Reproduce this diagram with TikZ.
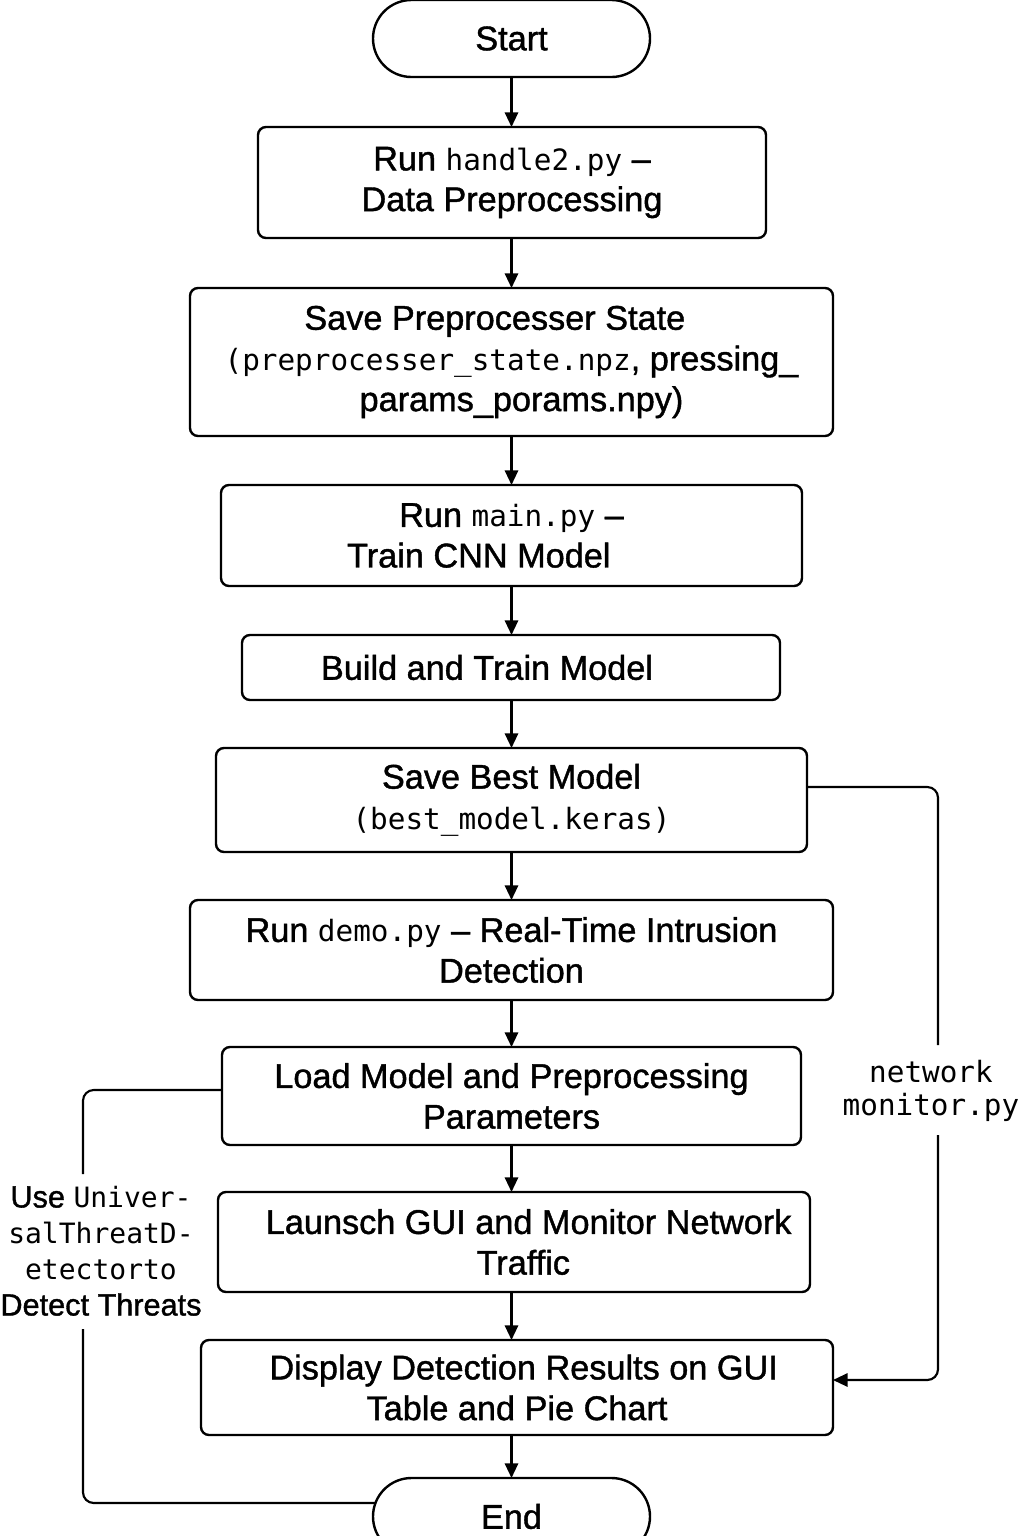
\documentclass[tikz,border=0pt]{standalone}
\usepackage{fontspec}
\setmainfont{Liberation Sans}[RawFeature={embolden=1.2}]
\setmonofont{DejaVu Sans Mono}
\usetikzlibrary{arrows.meta,shapes.misc}
\newcommand\cod[1]{{\fontsize{22}{30}\ttfamily #1}}
\newcommand\codl[1]{{\fontsize{21}{27}\ttfamily #1}}
\begin{document}
\begin{tikzpicture}[x=0.75pt,y=-0.75pt,
  box/.style={draw, line width=1.8pt, rounded corners=6pt, inner sep=0pt, outer sep=0pt, align=center, font=\fontsize{25.7}{30.5}\selectfont},
  term/.style={draw, line width=1.8pt, rounded rectangle, inner sep=0pt, outer sep=0pt, minimum width=207.75pt, minimum height=57.75pt, font=\fontsize{25.7}{30}\selectfont},
  conn/.style={line width=1.6pt},
  arr/.style={conn, -{Triangle[length=11pt,width=10pt]}},
  sidelbl/.style={inner sep=0pt, align=center}
]
\useasboundingbox (0,0) rectangle (1024,1536);

\node[term] (s) at (511.5,38.5) {Start};
\node[box, minimum width=381pt, minimum height=83.25pt] (b1) at (512,182.5) {Run \cod{handle2.py} –\\Data Preprocessing};
\node[box, minimum width=482.25pt, minimum height=111pt] (b2) at (511.5,362) {Save Preprocesser State\hspace*{25pt}\\\cod{(preprocesser\_state.npz}, pressing\_\\\hspace*{15pt}params\_porams.npy)};
\node[box, minimum width=435.75pt, minimum height=75.75pt] (b3) at (511.5,535.5) {Run \cod{main.py} –\\Train CNN Model\hspace*{49pt}};
\node[box, minimum width=403.5pt, minimum height=48.75pt] (b4) at (511,667.5) {Build and Train Model\hspace*{36pt}};
\node[box, minimum width=443.25pt, minimum height=78pt] (b5) at (511.5,800) {Save Best Model\\\cod{(best\_model.keras)}};
\node[box, minimum width=482.25pt, minimum height=75pt] (b6) at (511.5,950) {Run \cod{demo.py} – Real-Time Intrusion\\Detection};
\node[box, minimum width=434.25pt, minimum height=73.5pt] (b7) at (511.5,1096) {Load Model and Preprocessing\\Parameters};
\node[box, minimum width=444pt, minimum height=75pt] (b8) at (514,1242) {\hspace*{22pt}Launsch GUI and Monitor Network\\\hspace*{14pt}Traffic};
\node[box, minimum width=474pt, minimum height=71.25pt] (b9) at (517,1387.5) {\hspace*{10pt}Display Detection Results on GUI\\Table and Pie Chart};
\node[term] (e) at (511.5,1516.5) {End};

\draw[arr] (s.south) -- (b1.north -| s.south);
\draw[arr] (b1.south -| s.south) -- (b2.north -| s.south);
\draw[arr] (b2.south -| s.south) -- (b3.north -| s.south);
\draw[arr] (b3.south -| s.south) -- (b4.north -| s.south);
\draw[arr] (b4.south -| s.south) -- (b5.north -| s.south);
\draw[arr] (b5.south -| s.south) -- (b6.north -| s.south);
\draw[arr] (b6.south -| s.south) -- (b7.north -| s.south);
\draw[arr] (b7.south -| s.south) -- (b8.north -| s.south);
\draw[arr] (b8.south -| s.south) -- (b9.north -| s.south);
\draw[arr] (b9.south -| s.south) -- (e.north);

% right connector
\node[sidelbl, font=\fontsize{22}{25}\ttfamily] (nm) at (931,1091) {network\\monitor.py};
\coordinate (ra) at (938,787);
\coordinate (rb) at (938,1045);
\coordinate (rc) at (938,1135);
\coordinate (rd) at (938,1380);
\draw[conn, rounded corners=8pt] (b5.east |- ra) -- (ra) -- (rb);
\draw[arr, rounded corners=8pt] (rc) -- (rd) -- (b9.east |- rd);

% left connector
\node[sidelbl, font=\fontsize{23}{27}\selectfont] (ut) at (101,1251) {Use \codl{Univer-}\\\codl{salThreatD-}\\\codl{etectorto}\\Detect Threats};
\coordinate (la) at (83,1090);
\coordinate (lb) at (83,1174);
\coordinate (lc) at (83,1329);
\coordinate (ld) at (83,1503);
\coordinate (le) at (376,1503);
\draw[conn, rounded corners=8pt] (b7.west |- la) -- (la) -- (lb);
\draw[conn, rounded corners=8pt] (lc) -- (ld) -- (le);
\end{tikzpicture}
\end{document}
